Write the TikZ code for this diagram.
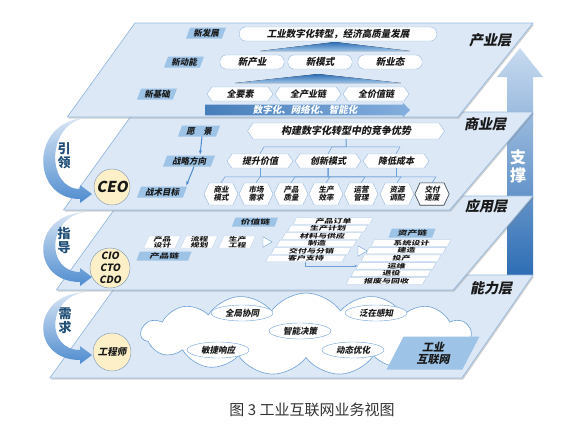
\documentclass[tikz,border=0pt]{standalone}
\usepackage{fontspec}
\setmainfont{Noto Sans CJK SC}
\newfontfamily\cjksl[FakeSlant=0.2]{Noto Sans CJK SC}
\newfontfamily\cjkwide[FakeSlant=0.2,FakeStretch=1.5]{Noto Sans CJK SC}
\usetikzlibrary{positioning, arrows.meta, shapes.geometric, shapes.symbols, shapes.arrows, shadows}
\definecolor{layerfill}{RGB}{220,232,246}
\definecolor{layerline}{RGB}{150,185,222}
\definecolor{tagblue}{RGB}{157,195,230}
\definecolor{linkblue}{RGB}{110,160,215}
\definecolor{arrowblue}{RGB}{79,140,207}
\definecolor{darkblue}{RGB}{31,78,121}
\definecolor{roleyellow}{RGB}{253,240,200}
\definecolor{inktext}{RGB}{25,25,25}
\definecolor{supplight}{RGB}{200,219,240}
\definecolor{suppdark}{RGB}{46,109,180}

% one plate: left x, top y, bottom y, slope of the right edge
\newcommand{\layerplate}[4]{%
  \path[layer] (#1,#2) -- (533,#2) -- ({533-#4*(#3-#2)},#3) -- ({#1-0.72*(#3-#2)},#3) -- cycle;}
% curved arrow on the left: top y, tip y
\newcommand{\sidearrow}[2]{%
  \path[sideflow] (86,#1) .. controls (46,{#1+5}) and (46,{#2-5}) .. (80,{#2-5})
    -- (80,{#2-9}) -- (92,#2) -- (80,{#2+9}) -- (80,{#2+5})
    .. controls (30,{#2+5}) and (30,{#1+2}) .. (86,#1) -- cycle;}

\begin{document}
\begin{tikzpicture}[x=1pt, y=-1pt,
    layer/.style={fill=layerfill, draw=layerline, line width=0.7pt, line join=round,
      drop shadow={shadow xshift=1.2pt, shadow yshift=-1.5pt, opacity=0.35, fill=black!50}},
    sideflow/.style={top color=supplight!70!white, bottom color=arrowblue},
    sidetext/.style={font=\bfseries\fontsize{13}{14}\selectfont, text=darkblue, align=center},
    layertitle/.style={font=\cjksl\bfseries\fontsize{14}{15}\selectfont, text=inktext},
    tag/.style={trapezium, trapezium left angle=68, trapezium right angle=112, trapezium stretches body,
      fill=tagblue, inner sep=1pt, minimum height=11, text=inktext,
      font=\cjksl\bfseries\fontsize{8.5}{9}\selectfont},
    widetag/.style={tag, minimum height=9, font=\cjkwide\bfseries\fontsize{6.5}{7}\selectfont},
    roundbox/.style={draw=layerline, fill=white, rounded corners=6pt, minimum height=14, inner sep=1pt,
      text=inktext, font=\cjksl\bfseries\fontsize{9.5}{10}\selectfont},
    hexbox/.style={signal, signal to=east and west, signal pointer angle=110, draw=layerline, fill=white,
      minimum width=66, minimum height=14, inner sep=1pt, text=inktext,
      font=\cjksl\bfseries\fontsize{9}{10}\selectfont},
    minihex/.style={signal, signal to=east and west, signal pointer angle=130, draw=layerline, fill=white,
      minimum width=34, minimum height=22, inner sep=0pt, align=center, text=inktext,
      font=\cjksl\bfseries\fontsize{7.5}{8}\selectfont},
    bigarrow/.style={single arrow, single arrow head extend=2pt, single arrow head indent=0pt,
      minimum height=205, inner sep=0.5pt, left color=arrowblue!90!black, right color=arrowblue!70!white,
      text=white, font=\cjksl\bfseries\fontsize{9.5}{10}\selectfont},
    tri/.style={top color=suppdark, bottom color=tagblue},
    tree/.style={draw=linkblue, line width=0.5pt},
    flow/.style={-{Stealth[length=4pt]}, draw=arrowblue, line width=1pt, shorten >=1pt},
    link/.style={draw=linkblue, line width=0.5pt},
    chainbox/.style={trapezium, trapezium left angle=65, trapezium right angle=115, trapezium stretches body,
      fill=white, draw=layerline!60, minimum width=37, minimum height=12, inner sep=0pt, align=center,
      text=inktext, font=\cjkwide\bfseries\fontsize{5.8}{6}\selectfont},
    rowbox/.style={trapezium, trapezium left angle=60, trapezium right angle=120, trapezium stretches body,
      fill=white, draw=layerline!70, minimum width=80, minimum height=6.5, inner sep=0pt,
      text=inktext, font=\cjkwide\bfseries\fontsize{6}{6}\selectfont},
    pointer/.style={isosceles triangle, isosceles triangle apex angle=60, draw=linkblue, fill=white,
      inner sep=0pt, minimum size=9},
    role/.style={circle, draw=layerline!80!black, fill=roleyellow, inner sep=0pt, text=inktext},
    skill/.style={ellipse, draw=linkblue, fill=white, minimum width=62, minimum height=16, inner sep=0pt,
      text=inktext, font=\cjksl\bfseries\fontsize{8.5}{9}\selectfont}
]
\useasboundingbox (0,0) rectangle (572,429);
\fill[white] (0,0) rectangle (572,429);

% support arrow behind the plates
\path[top color=supplight, bottom color=suppdark]
  (507,275) -- (507,77) -- (497,77) -- (520,48) -- (543,77) -- (533,77) -- (533,275) -- cycle;
% plates, lowest first
\layerplate{124}{275}{378}{0.69}
\layerplate{124}{196}{290}{0.85}
\layerplate{134}{112}{210}{0.85}
\layerplate{135}{23}{117}{0.8}
\node[font=\bfseries\fontsize{16}{18}\selectfont, text=white, align=center] (supp) at (518,166) {支\\撑};

% industry layer
\node[tag, minimum width=40] (newdev) at (206,33) {新发展};
\node[roundbox, minimum width=197] (goal) at (338,34) {工业数字化转型，经济高质量发展};
\fill[tri] (260,51) -- (335,42) -- (410,51) -- cycle;
\node[tag, minimum width=40] (newpow) at (184,62) {新动能};
\node[roundbox, minimum width=64] (ind) at (252,62) {新产业};
\node[roundbox, minimum width=64] (mode) at (320,62) {新模式};
\node[roundbox, minimum width=64] (form) at (390,62) {新业态};
\fill[tri] (235,83) -- (318,74) -- (401,83) -- cycle;
\node[tag, minimum width=40] (newbase) at (157,94) {新基础};
\node[hexbox] (elem) at (240,94) {全要素};
\node[hexbox] (chain) at (308,94) {全产业链};
\node[hexbox] (value) at (376,94) {全价值链};
\node[bigarrow] (digi) at (305,110) {数字化、网络化、智能化};
\node[layertitle] (lt1) at (490,40) {产业层};

% business layer
\node[tag, minimum width=42] (vision) at (199,131) {愿\quad 景};
\node[hexbox, minimum width=197, minimum height=16, font=\cjksl\bfseries\fontsize{10}{11}\selectfont] (edge) at (346,131) {构建数字化转型中的竞争优势};
\node[tag, minimum width=52] (dir) at (189,161) {战略方向};
\node[hexbox] (g1) at (260,161) {提升价值};
\node[hexbox] (g2) at (328,161) {创新模式};
\node[hexbox] (g3) at (396,161) {降低成本};
\node[tag, minimum width=50] (tac) at (162,192) {战术目标};
\foreach \x/\a/\b [count=\i] in {221/商业/模式, 256/市场/需求, 291/产品/质量, 326/生产/效率, 361/运营/管理, 397/资源/调配, 432/交付/速度}
  \node[minihex] (t\i) at (\x,194) {\a\\\b};
\draw[black!70, line width=0.6pt] (t7.east) -- (t7.north east) -- (t7.north west) -- (t7.west) -- (t7.south west) -- (t7.south east) -- cycle;
\foreach \c in {g1,g2,g3}
  \draw[tree] (\c.north) -- ++(4,-7) -| (edge.south);
\foreach \i in {1,...,7}
  \draw[tree] (t\i.north) -- ++(4,-6) -| (g2.south);
\draw[tree] (g1.south) -- ++(0,9);
\draw[tree] (g3.south) -- ++(0,9);
\draw[flow] ([xshift=3pt]vision.south) -- ([xshift=11pt]dir.north);
\draw[flow] ([xshift=5pt]dir.south) -- ([xshift=24pt]tac.north);
\node[role, minimum size=36, font=\cjksl\bfseries\fontsize{15}{16}\selectfont] (ceo) at (112,187) {CEO};
\node[layertitle] (lt2) at (485,124) {商业层};

% application layer
\node[widetag, minimum width=46] (vchain) at (255,222) {价值链};
\node[chainbox] (p1) at (162,242) {产品\\设计};
\node[chainbox] (p2) at (199,242) {流程\\规划};
\node[chainbox] (p3) at (237,242) {生产\\工程};
\node[widetag, minimum width=55] (pchain) at (164,256) {产品链};
\node[pointer] (tri1) at (266,242) {};
\foreach \t [count=\i from 0] in {产品订单,生产计划,材料与供应,制造,交付与分销,客户支持}
  \node[rowbox] (v\i) at ({333-5.5*\i},{221+7.5*\i}) {\t};
\node[pointer] (tri2) at (361,251) {};
\node[widetag, minimum width=47] (achain) at (412,233) {资产链};
\foreach \t [count=\i from 0] in {系统设计,建造,投产,运维,退役,报废与回收}
  \node[rowbox] (a\i) at ({411-5*\i},{243+7.6*\i}) {\t};
\draw[link, -{Stealth[length=3pt]}] (v5.south) |- (a3.west);
\node[role, minimum size=40, align=center, font=\cjksl\bfseries\fontsize{10}{12}\selectfont] (cxo) at (110,268) {CIO\\CTO\\CDO};
\node[layertitle] (lt3) at (486,206) {应用层};

% capability layer
\node[cloud, cloud puffs=15, cloud puff arc=110, aspect=4, draw=linkblue, fill=white, line width=0.6pt,
  minimum width=330, minimum height=82] (cloud) at (306,334) {};
\node[skill] (s1) at (242,313) {全局协同};
\node[skill] (s2) at (300,331) {智能决策};
\node[skill] (s3) at (218,350) {敏捷响应};
\node[skill] (s4) at (376,313) {泛在感知};
\node[skill] (s5) at (353,350) {动态优化};
\node[tag, trapezium left angle=55, trapezium right angle=125, minimum width=93, minimum height=33, align=center,
  font=\cjksl\bfseries\fontsize{11}{12}\selectfont] (iiot) at (433,353) {工业\\互联网};
\node[role, minimum size=38, font=\cjksl\bfseries\fontsize{9.5}{10}\selectfont] (eng) at (112,352) {工程师};
\node[layertitle] (lt4) at (491,288) {能力层};

% left arrows
\sidearrow{118}{194}
\node[sidetext] (lead) at (64,156) {引\\领};
\sidearrow{212}{277}
\node[sidetext] (guide) at (64,241) {指\\导};
\sidearrow{292}{355}
\node[sidetext] (need) at (65,321) {需\\求};

\node[font=\fontsize{15}{16}\selectfont, text=black!80] (cap) at (312,410) {图 3 工业互联网业务视图};
\end{tikzpicture}
\end{document}
